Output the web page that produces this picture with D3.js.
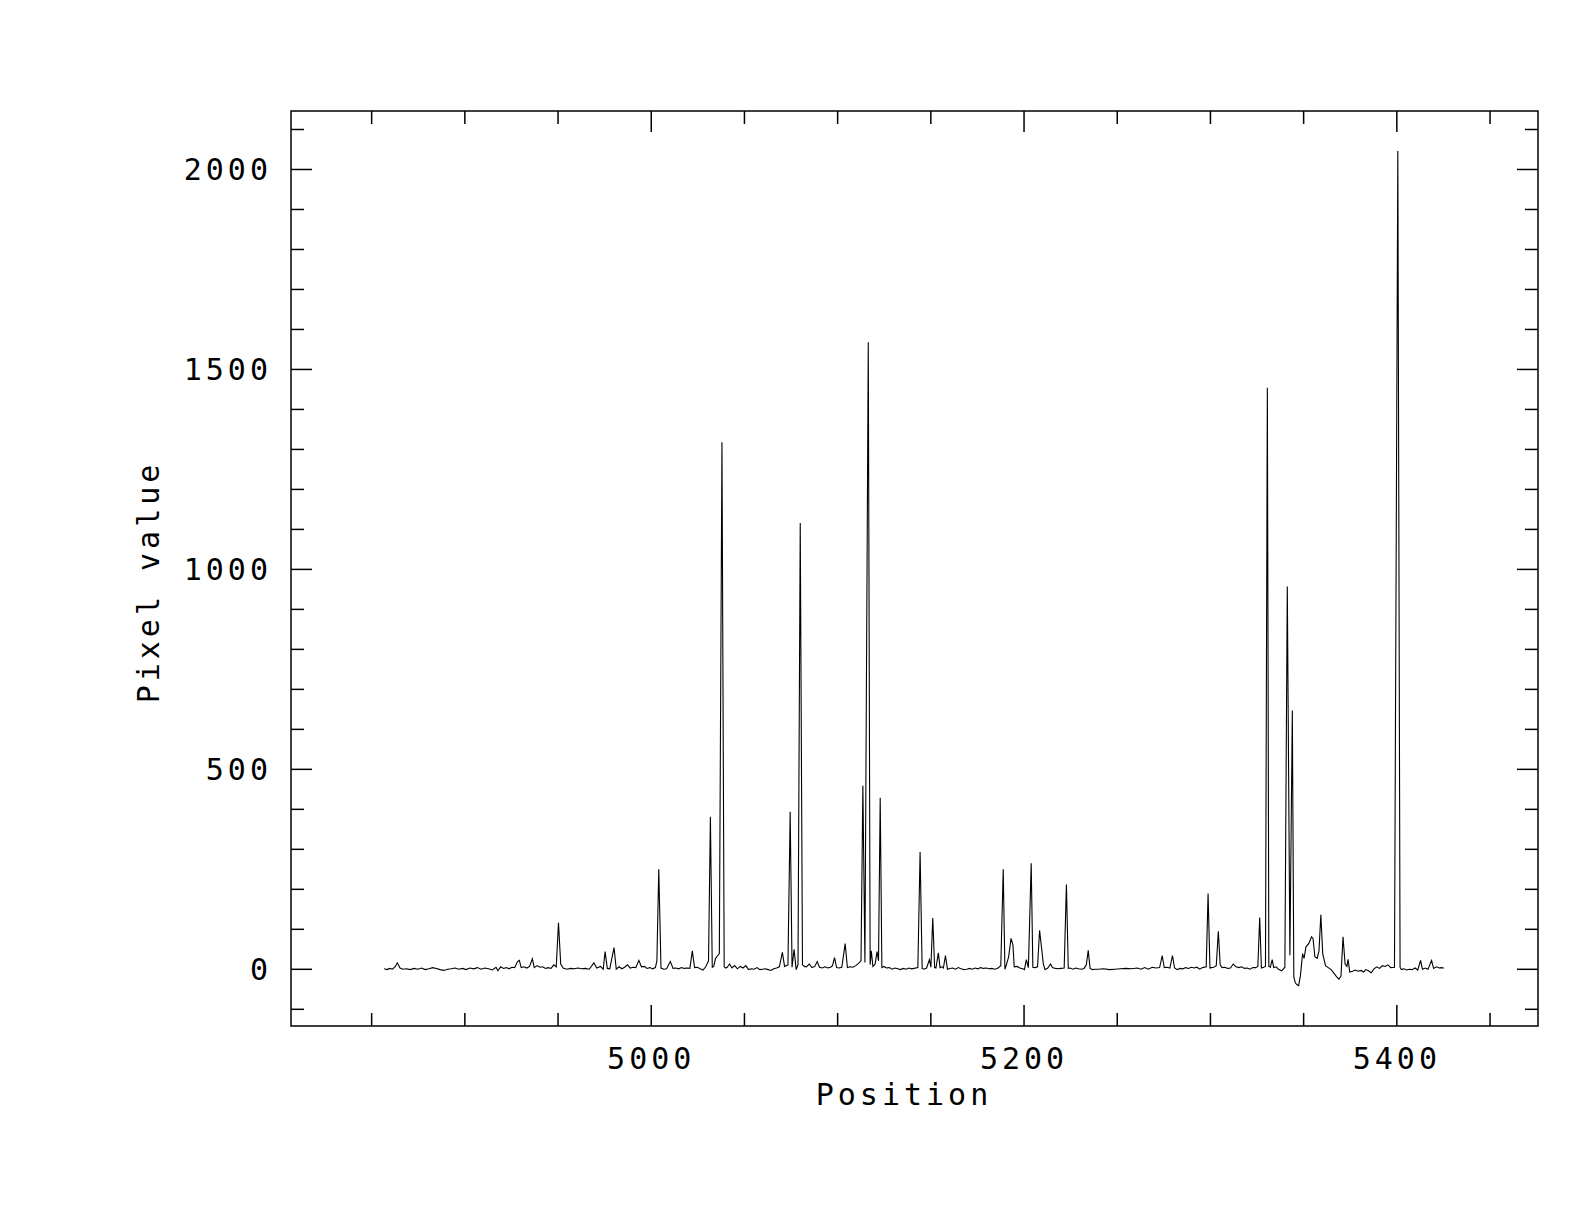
<!DOCTYPE html>
<html>
<head>
<meta charset="utf-8">
<script src="https://cdn.jsdelivr.net/npm/d3@7"></script>
<style>
  body { margin: 0; background: #fff; }
  text { font-family: "DejaVu Sans Mono", monospace; font-size: 30px; letter-spacing: 4px; fill: #000; }
</style>
</head>
<body>
<div id="chart"></div>
<script>

// spectrum: [position, pixel value]
let spectrum = [
  [4857,0],[4858.5,-2],[4860,1],[4861.5,-1],[4863,6],[4864,15],[4865.5,2],[4867,-1],[4869,0],[4871,-2],
  [4873,1],[4875,-1],[4877,2],[4879,-2],[4881,0],[4883,3],[4885,1],[4887,-2],[4889,-4],[4891,-1],
  [4893,0],[4895,2],[4897,-1],[4899,1],[4901,-2],[4903,2],[4905,0],[4907,3],[4909,-1],[4911,2],
  [4913,0],[4915,-3],[4917,4],[4918,-5],[4919.5,5],[4921,1],[4922.5,3],[4924,0],[4925.5,4],[4927,3],
  [4928.5,18],[4929.5,21],[4930.5,3],[4932,5],[4933.5,2],[4935,6],[4936.5,25],[4937.5,3],[4939,8],[4940.5,4],
  [4942,5],[4943.5,1],[4945,3],[4946.5,1],[4948,10],[4949.3,5],[4950.5,115],[4951.7,12],[4953,2],[4955,-1],
  [4957,1],[4959,0],[4961,2],[4963,0],[4965,1],[4967,-1],[4969.5,15],[4971,2],[4973,6],[4974.5,-1],
  [4975.5,43],[4976.7,1],[4978,0],[4980.3,53],[4981.5,-1],[4983,5],[4984.5,0],[4986,4],[4987.5,10],[4989,2],
  [4990.5,4],[4992,3],[4993.6,21],[4995,5],[4996.5,6],[4998,1],[4999.5,3],[5001,0],[5002.5,3],[5003.3,20],
  [5004.3,249],[5005.5,2],[5007,-1],[5008.5,0],[5010.5,18],[5012,1],[5013.5,2],[5015,0],[5016.5,3],[5018,1],
  [5019.5,2],[5021,1],[5022.3,45],[5023.5,3],[5025,4],[5026.5,0],[5028,-3],[5029.5,5],[5031,20],[5032,380],
  [5033,4],[5033.8,6],[5034.7,25],[5035.7,32],[5036.8,38],[5038.2,1317],[5039.4,5],[5040.2,2],[5041,4],[5042.3,12],
  [5043.5,2],[5045,8],[5046.5,0],[5048,6],[5049.5,2],[5051,8],[5052.5,-2],[5054,0],[5055.5,-1],[5057,3],
  [5058.5,-2],[5060,-1],[5061.5,0],[5063,-2],[5064.5,-4],[5066,0],[5067.5,2],[5069,5],[5070.6,41],[5071.8,6],
  [5073.6,10],[5074.8,393],[5075.8,4],[5076.9,49],[5078,-2],[5079,10],[5080.2,1115],[5081.4,10],[5082.4,6],[5083.5,5],
  [5085,12],[5086.5,3],[5088,6],[5089.3,18],[5090.5,4],[5092,2],[5093.5,5],[5095,2],[5096.5,4],[5097.5,8],
  [5098.6,28],[5099.7,3],[5101,2],[5102.5,4],[5104.3,63],[5105.5,3],[5107,5],[5108.5,4],[5110,8],[5111.6,14],
  [5112.8,20],[5113.8,458],[5114.9,16],[5116.7,1567],[5117.7,10],[5118.3,45],[5119.2,6],[5120.4,12],[5121.4,43],[5122.2,20],
  [5123.1,428],[5124,3],[5125,6],[5126.5,2],[5128,3],[5129.5,-1],[5131,2],[5132.5,0],[5134,-2],[5135.5,1],
  [5137,-1],[5138.5,2],[5140,0],[5143.3,3],[5144.5,292],[5145.6,1],[5146.5,-1],[5148,2],[5149.5,23],[5150.3,4],
  [5151.3,127],[5152.3,3],[5153,2],[5154.3,40],[5155.2,3],[5156.2,5],[5157,2],[5158.1,33],[5159.2,-1],[5160.5,1],
  [5162,2],[5163.5,-1],[5165,3],[5166.5,0],[5168,-2],[5169.5,-1],[5171,1],[5172.5,-1],[5174,2],[5175.5,0],
  [5177,3],[5178.5,1],[5180,2],[5181.5,0],[5183,1],[5184.5,-1],[5186,1],[5187.8,8],[5189.1,249],[5190,-1],
  [5190.8,10],[5192,30],[5193.3,76],[5194.3,60],[5195,5],[5196.5,6],[5198,2],[5199.5,0],[5200.5,-2],[5201.5,23],
  [5202.6,3],[5204.1,264],[5205,4],[5206.2,3],[5207.5,5],[5208.6,96],[5209.8,47],[5210.6,12],[5211.5,-2],[5213,2],
  [5214.5,12],[5215.5,3],[5217,1],[5218.5,0],[5220,1],[5221.8,2],[5223,211],[5224,1],[5225,2],[5226.5,-1],
  [5228,2],[5229.5,0],[5231,-1],[5232.5,1],[5233.7,10],[5234.7,46],[5235.7,1],[5237,-2],[5238.5,-1],[5240,-1],
  [5243,0],[5246,-2],[5249,-1],[5252,0],[5255,1],[5258,0],[5261,2],[5263,-1],[5265,3],[5267,-1],
  [5269,4],[5271,2],[5273,3],[5274.4,33],[5275.5,3],[5277,4],[5278.5,2],[5279.9,33],[5281,2],[5282.5,-2],
  [5284,1],[5285.5,0],[5287,3],[5288.5,1],[5290,4],[5291.5,2],[5293,4],[5294.5,-1],[5296,3],[5298,5],
  [5299,188],[5300,2],[5300.8,3],[5302,4],[5303.4,8],[5304.5,94],[5305.5,10],[5306.5,3],[5308,4],[5309.5,1],
  [5311,2],[5312.5,12],[5314,5],[5315.5,3],[5317,5],[5318.5,1],[5320,2],[5321.5,-1],[5323,3],[5324.5,3],
  [5325.7,6],[5326.7,128],[5327.6,2],[5328.8,4],[5329.8,6],[5330.8,1453],[5331.6,6],[5332.4,4],[5333.4,23],[5334.2,3],
  [5335.5,5],[5337,-2],[5338.5,-5],[5340.2,4],[5341.5,956],[5342.9,34],[5344.2,646],[5345,-20],[5345.8,-35],[5346.7,-40],
  [5347.6,-42],[5348.6,-15],[5349.7,38],[5350.5,26],[5351.5,55],[5353,63],[5354.5,80],[5355.3,76],[5356.3,30],[5357.5,26],
  [5358.5,45],[5359.5,135],[5360.5,38],[5362,8],[5363.5,3],[5365,-2],[5366.7,-12],[5368,-20],[5369.2,-26],[5370.3,-18],
  [5371.4,80],[5372.5,12],[5373.5,6],[5374.1,24],[5375,-8],[5376.5,-6],[5378,-3],[5379.5,-6],[5381,-4],[5382.5,-8],
  [5383.5,-2],[5385,-5],[5386.5,-10],[5388,0],[5389.5,5],[5391,1],[5392.5,8],[5394,6],[5395.5,10],[5397,3],
  [5399,4],[5400.8,2045],[5402,3],[5402.8,-2],[5404,0],[5405.5,-3],[5407,-1],[5408.5,-2],[5410,2],[5411.5,-3],
  [5413,21],[5414,-1],[5415.5,2],[5417,-1],[5418.9,21],[5420,1],[5421.5,5],[5423,2],[5424,3],[5425.5,2]
];

let xMajorTicks = [5000, 5200, 5400];
let xMinorTicks = [4850, 4900, 4950, 5050, 5100, 5150, 5250, 5300, 5350, 5450];
let yMajorTicks = [0, 500, 1000, 1500, 2000];
let yMinorTicks = [-100, 100, 200, 300, 400, 600, 700, 800, 900, 1100, 1200, 1300, 1400, 1600, 1700, 1800, 1900, 2100];

let xLabel = 'Position';
let yLabel = 'Pixel value';

let W = 1584, H = 1224;
let mLeft = 291, mRight = 1538, mTop = 111, mBottom = 1026;

let svg = d3.select('#chart').append('svg').attr('width', W).attr('height', H);

let x = d3.scaleLinear().domain([4807, 5476]).range([mLeft, mRight]);
let y = d3.scaleLinear().domain([-143, 2145]).range([mBottom, mTop]);

// inward ticks on all four sides, long ones for the labelled values
function drawAxis(axisFn, transform, values, size, labels) {
    let a = svg.append('g').attr('transform', transform)
        .call(axisFn.tickValues(values).tickSize(-size)
              .tickFormat(labels ? d3.format('d') : ''));
    a.select('.domain').remove();
    a.selectAll('line').attr('stroke', '#000').attr('stroke-width', 1.5);
    a.attr('font-size', null).attr('font-family', null);
    return a;
}

let xb = drawAxis(d3.axisBottom(x), 'translate(0,' + mBottom + ')', xMajorTicks, 21, true);
xb.selectAll('text').attr('y', 43).attr('dy', 0);
drawAxis(d3.axisBottom(x), 'translate(0,' + mBottom + ')', xMinorTicks, 13, false);
drawAxis(d3.axisTop(x), 'translate(0,' + mTop + ')', xMajorTicks, 21, false);
drawAxis(d3.axisTop(x), 'translate(0,' + mTop + ')', xMinorTicks, 13, false);

let yl = drawAxis(d3.axisLeft(y), 'translate(' + mLeft + ',0)', yMajorTicks, 21, true);
yl.selectAll('text').attr('x', -19).attr('dy', '0.36em');
drawAxis(d3.axisLeft(y), 'translate(' + mLeft + ',0)', yMinorTicks, 13, false);
drawAxis(d3.axisRight(y), 'translate(' + mRight + ',0)', yMajorTicks, 21, false);
drawAxis(d3.axisRight(y), 'translate(' + mRight + ',0)', yMinorTicks, 13, false);

svg.selectAll('.tick text').attr('fill', '#000');

// frame
svg.append('rect')
    .attr('x', mLeft).attr('y', mTop)
    .attr('width', mRight - mLeft).attr('height', mBottom - mTop)
    .attr('fill', 'none').attr('stroke', '#000').attr('stroke-width', 1.5);

let line = d3.line().x(d => x(d[0])).y(d => y(d[1]));

svg.append('path')
    .datum(spectrum)
    .attr('d', line)
    .attr('fill', 'none')
    .attr('stroke', '#000')
    .attr('stroke-width', 1.1)
    .attr('stroke-linejoin', 'miter');

svg.append('text')
    .attr('x', 904).attr('y', 1105)
    .attr('text-anchor', 'middle')
    .text(xLabel);

svg.append('text')
    .attr('transform', 'translate(159,582) rotate(-90)')
    .attr('text-anchor', 'middle')
    .text(yLabel);

</script>
</body>
</html>
